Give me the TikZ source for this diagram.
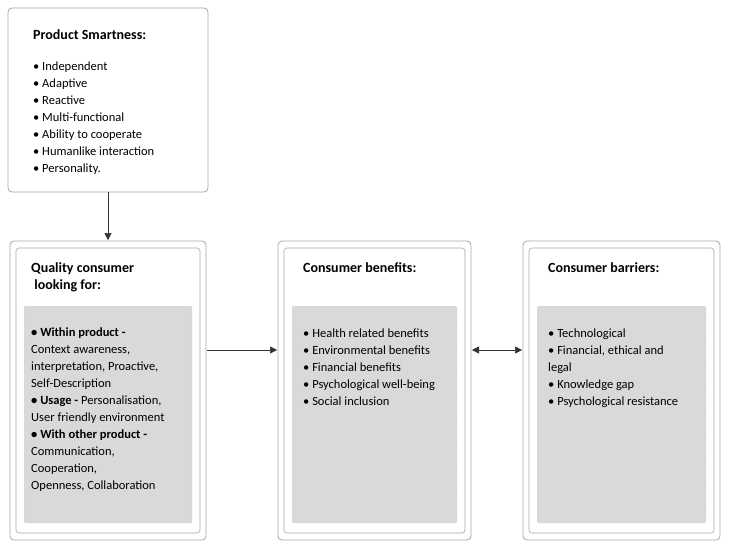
\documentclass[tikz,border=0pt]{standalone}
\usepackage{fontspec}
\setmainfont{Carlito}
\usetikzlibrary{arrows.meta}
\tikzset{
  outerbox/.style={draw=gray!70, rounded corners=4pt, line width=0.8pt},
  innerbox/.style={draw=gray!70, rounded corners=3pt, line width=0.6pt},
  graybox/.style={draw=gray!60, dotted, fill=gray!30, rounded corners=2pt},
  title/.style={anchor=north west, font=\fontsize{14}{17}\selectfont\bfseries, align=left, inner sep=0pt},
  items/.style={anchor=north west, font=\fontsize{12.5}{17}\selectfont, align=left, inner sep=0pt},
  link/.style={draw=black!80, line width=0.5pt, -{Triangle[length=7pt,width=7pt]}}
}
\begin{document}
\begin{tikzpicture}[x=1pt,y=-1pt]
  \useasboundingbox (0,0) rectangle (729,546);
  % top box
  \draw[outerbox] (8,8) rectangle (208,192);
  \node[title] (smart) at (33,29) {Product Smartness:};
  \node[items] (smartlist) at (33,62) {• Independent\\• Adaptive\\• Reactive\\• Multi-functional\\%
    • Ability to cooperate\\• Humanlike interaction\\• Personality.};
  % three panels
  \foreach \xa/\xb in {10/206, 278/471, 523/720}{
    \draw[outerbox] (\xa,241) rectangle (\xb,540);
    \draw[innerbox] (\xa+6,248) rectangle (\xb-6,533);
    \draw[graybox] (\xa+14,306) rectangle (\xb-14,523);
  }
  \coordinate (qtop) at (108,240);
  \coordinate (stop) at (108,192);
  \coordinate (qright) at (207,350);
  \coordinate (bleft) at (277,350);
  \coordinate (bright) at (472,350);
  \coordinate (rleft) at (522,350);
  \node[title] (quality) at (31,262) {Quality consumer\\\ looking for:};
  \node[items] (qlist) at (31,328) {\textbf{• Within product -}\\Context awareness,\\interpretation, Proactive,\\%
    Self-Description\\\textbf{• Usage -} Personalisation,\\User friendly environment\\%
    \textbf{• With other product -}\\Communication,\\Cooperation,\\Openness, Collaboration};
  \node[title] (benefit) at (303,262) {Consumer benefits:};
  \node[items] (blist) at (303,329) {• Health related benefits\\• Environmental benefits\\%
    • Financial benefits\\• Psychological well-being\\• Social inclusion};
  \node[title] (barrier) at (548,262) {Consumer barriers:};
  \node[items] (rlist) at (548,329) {• Technological\\• Financial, ethical and\\legal\\%
    • Knowledge gap\\• Psychological resistance};
  % connectors
  \draw[link] (stop) -- (qtop);
  \draw[link] (qright) -- (bleft);
  \draw[link, {Triangle[length=7pt,width=7pt]}-{Triangle[length=7pt,width=7pt]}] (bright) -- (rleft);
\end{tikzpicture}
\end{document}
